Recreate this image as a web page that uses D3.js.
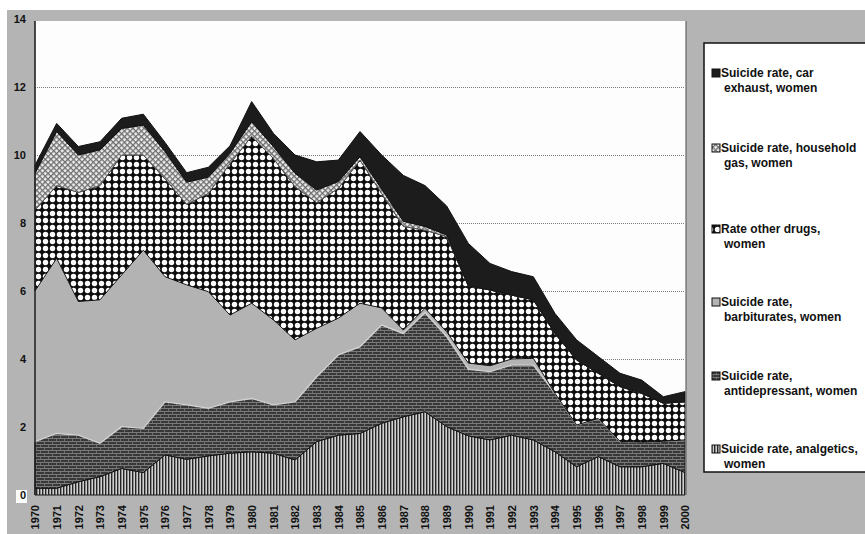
<!DOCTYPE html>
<html>
<head>
<meta charset="utf-8">
<script src="https://cdn.jsdelivr.net/npm/d3@7"></script>
<style>
  body { margin: 0; background: #fff; }
  svg { display: block; font-family: "Liberation Sans", Arial, sans-serif; }
  .axis path, .axis line { display: none; }
  .axis text { font-size: 11px; font-weight: bold; fill: #111; }
  .legend text { font-size: 12px; font-weight: bold; fill: #111; }
</style>
</head>
<body>
<svg id="chart"></svg>
<script>
// women, suicide rate by method (stacked, bottom to top)
const years = [1970, 1971, 1972, 1973, 1974, 1975, 1976, 1977, 1978, 1979,
  1980, 1981, 1982, 1983, 1984, 1985, 1986, 1987, 1988, 1989,
  1990, 1991, 1992, 1993, 1994, 1995, 1996, 1997, 1998, 1999, 2000];

const analgetics = [0.2, 0.2, 0.39, 0.54, 0.78, 0.66, 1.18, 1.05, 1.15, 1.23,
  1.27, 1.23, 1.03, 1.57, 1.76, 1.81, 2.11, 2.3, 2.45, 2.01,
  1.74, 1.62, 1.76, 1.62, 1.27, 0.83, 1.13, 0.83, 0.83, 0.93, 0.66];
const antidepressant = [1.37, 1.61, 1.37, 0.98, 1.23, 1.3, 1.56, 1.6, 1.4, 1.51,
  1.57, 1.42, 1.71, 1.91, 2.36, 2.55, 2.89, 2.45, 2.91, 2.65,
  1.96, 2.01, 2.06, 2.2, 1.72, 1.23, 1.12, 0.75, 0.72, 0.65, 0.96];
const barbiturates = [4.43, 5.15, 3.93, 4.22, 4.46, 5.24, 3.68, 3.53, 3.43, 2.55,
  2.8, 2.5, 1.82, 1.42, 1.08, 1.28, 0.5, 0.1, 0.13, 0.14,
  0.18, 0.17, 0.18, 0.2, 0, 0, 0, 0, 0, 0, 0];
const otherDrugs = [2.38, 2.14, 3.21, 3.36, 3.53, 2.8, 2.88, 2.37, 2.89, 4.46,
  4.91, 4.75, 4.51, 3.7, 3.82, 4.21, 3.37, 3.05, 2.3, 2.8,
  2.27, 2.23, 1.88, 1.72, 1.76, 1.91, 1.33, 1.61, 1.44, 1.12, 1.12];
const householdGas = [1.08, 1.59, 1.1, 1.05, 0.78, 0.88, 0.8, 0.65, 0.48, 0.3,
  0.43, 0.35, 0.39, 0.37, 0.2, 0.1, 0.13, 0.15, 0.11, 0.05,
  0, 0, 0, 0, 0, 0, 0, 0, 0, 0, 0];
const carExhaust = [0.24, 0.24, 0.25, 0.24, 0.3, 0.32, 0.27, 0.28, 0.29, 0.22,
  0.59, 0.39, 0.54, 0.83, 0.63, 0.74, 1.0, 1.35, 1.2, 0.85,
  1.25, 0.78, 0.69, 0.68, 0.59, 0.59, 0.49, 0.39, 0.39, 0.19, 0.3];

const yTicks = [0, 2, 4, 6, 8, 10, 12, 14];

const seriesKeys = ["analgetics", "antidepressant", "barbiturates", "otherDrugs", "householdGas", "carExhaust"];
const seriesValues = { analgetics, antidepressant, barbiturates, otherDrugs, householdGas, carExhaust };

// legend is listed top-down, i.e. reverse of the stack
const legendItems = [
  { key: "carExhaust", lines: ["Suicide rate, car", "exhaust, women"] },
  { key: "householdGas", lines: ["Suicide rate, household", "gas, women"] },
  { key: "otherDrugs", lines: ["Rate other drugs,", "women"] },
  { key: "barbiturates", lines: ["Suicide rate,", "barbiturates, women"] },
  { key: "antidepressant", lines: ["Suicide rate,", "antidepressant, women"] },
  { key: "analgetics", lines: ["Suicide rate, analgetics,", "women"] }
];

const width = 865, height = 534;
const plot = { left: 35, right: 685, top: 19, bottom: 495 };

const svg = d3.select("#chart").attr("width", width).attr("height", height);

// ---- fill patterns
const defs = svg.append("defs");

const pAnalg = defs.append("pattern").attr("id", "p-analgetics")
  .attr("patternUnits", "userSpaceOnUse").attr("width", 3).attr("height", 6);
pAnalg.append("rect").attr("width", 3).attr("height", 6).attr("fill", "#8c8c8c");
pAnalg.append("rect").attr("x", 0).attr("width", 1).attr("height", 6).attr("fill", "#262626");
pAnalg.append("rect").attr("x", 2).attr("width", 0.8).attr("height", 6).attr("fill", "#e2e2e2");

// brick texture
const pAnti = defs.append("pattern").attr("id", "p-antidepressant")
  .attr("patternUnits", "userSpaceOnUse").attr("width", 8).attr("height", 6);
pAnti.append("rect").attr("width", 8).attr("height", 6).attr("fill", "#383838");
pAnti.append("rect").attr("y", 0).attr("width", 8).attr("height", 0.8).attr("fill", "#8a8a8a");
pAnti.append("rect").attr("y", 3).attr("width", 8).attr("height", 0.8).attr("fill", "#8a8a8a");
pAnti.append("rect").attr("x", 0).attr("y", 0).attr("width", 0.8).attr("height", 3).attr("fill", "#7a7a7a");
pAnti.append("rect").attr("x", 4).attr("y", 3).attr("width", 0.8).attr("height", 3).attr("fill", "#7a7a7a");

const pOther = defs.append("pattern").attr("id", "p-otherDrugs")
  .attr("patternUnits", "userSpaceOnUse").attr("width", 7).attr("height", 7);
pOther.append("rect").attr("width", 7).attr("height", 7).attr("fill", "#0d0d0d");
pOther.append("circle").attr("cx", 3.5).attr("cy", 3.5).attr("r", 2.7).attr("fill", "#fafafa");

const pGas = defs.append("pattern").attr("id", "p-householdGas")
  .attr("patternUnits", "userSpaceOnUse").attr("width", 4).attr("height", 4)
  .attr("patternTransform", "rotate(45)");
pGas.append("rect").attr("width", 4).attr("height", 4).attr("fill", "#f0f0f0");
pGas.append("rect").attr("width", 4).attr("height", 1.3).attr("fill", "#6e6e6e");
pGas.append("rect").attr("width", 1.3).attr("height", 4).attr("fill", "#6e6e6e");

const fills = {
  analgetics: "url(#p-analgetics)",
  antidepressant: "url(#p-antidepressant)",
  barbiturates: "#b3b3b3",
  otherDrugs: "url(#p-otherDrugs)",
  householdGas: "url(#p-householdGas)",
  carExhaust: "#1c1c1c"
};
const strokes = {
  analgetics: "#1a1a1a",
  antidepressant: "#111",
  barbiturates: "#d2d2d2",
  otherDrugs: "#111",
  householdGas: "#555",
  carExhaust: "#111"
};

// ---- frame
svg.append("rect").attr("x", 7).attr("y", 10).attr("width", width - 7).attr("height", height - 10)
  .attr("fill", "#b4b4b4");
svg.append("rect").attr("x", plot.left).attr("y", 21)
  .attr("width", plot.right - plot.left + 1).attr("height", plot.bottom - 21)
  .attr("fill", "#fdfdfd");

// ---- scales
const x = d3.scaleLinear().domain([years[0], years[years.length - 1]]).range([plot.left, plot.right]);
const y = d3.scaleLinear().domain([0, 14]).range([plot.bottom, plot.top]);

// gridlines
svg.append("g")
  .attr("transform", `translate(${plot.left},0)`)
  .call(d3.axisLeft(y).tickValues(yTicks.filter(t => t > 0 && t < 14)).tickSize(-(plot.right - plot.left)).tickFormat(""))
  .call(g => g.select(".domain").remove())
  .selectAll("line")
  .attr("stroke", "#7a7a7a")
  .attr("stroke-width", 1)
  .attr("stroke-dasharray", "1,1");

// ---- stacked areas
const table = years.map((yr, i) => {
  const row = { year: yr };
  seriesKeys.forEach(k => { row[k] = seriesValues[k][i]; });
  return row;
});

const stacked = d3.stack().keys(seriesKeys)(table);

const area = d3.area()
  .x(d => x(d.data.year))
  .y0(d => y(d[0]))
  .y1(d => y(d[1]));

svg.append("g").attr("class", "layers")
  .selectAll("path")
  .data(stacked)
  .join("path")
  .attr("d", area)
  .attr("fill", d => fills[d.key])
  .attr("stroke", d => strokes[d.key])
  .attr("stroke-width", d => d.key === "barbiturates" ? 1.4 : 1)
  .attr("stroke-linejoin", "round");

// plot borders
svg.append("line").attr("x1", plot.left).attr("x2", plot.left).attr("y1", 21).attr("y2", plot.bottom)
  .attr("stroke", "#222").attr("stroke-width", 1.6);
svg.append("line").attr("x1", plot.right + 1).attr("x2", plot.right + 1).attr("y1", 21).attr("y2", plot.bottom)
  .attr("stroke", "#666").attr("stroke-width", 1.2);

// ---- y axis labels
svg.append("rect").attr("x", 16).attr("y", 490).attr("width", 11).attr("height", 13).attr("fill", "#fff");
svg.append("g").attr("class", "axis")
  .attr("transform", `translate(${plot.left - 9},0)`)
  .call(d3.axisLeft(y).tickValues(yTicks).tickSize(0).tickPadding(0).tickFormat(d3.format("d")));

// ---- x axis labels (rotated)
svg.append("g").attr("class", "axis")
  .attr("transform", `translate(0,${plot.bottom})`)
  .call(d3.axisBottom(x).tickValues(years).tickSize(0).tickFormat(d3.format("d")))
  .selectAll("text")
  .attr("transform", "rotate(-90)")
  .attr("x", -10)
  .attr("y", 0)
  .attr("dy", "0.35em")
  .style("text-anchor", "end");

// ---- legend
svg.append("rect").attr("x", 704).attr("y", 43).attr("width", 175).attr("height", 429)
  .attr("fill", "#fff").attr("stroke", "#111").attr("stroke-width", 1.5);

const legendY = [77, 152, 233, 306, 380, 453];
const legend = svg.append("g").attr("class", "legend")
  .selectAll("g")
  .data(legendItems)
  .join("g")
  .attr("transform", (d, i) => `translate(0,${legendY[i]})`);

legend.append("rect")
  .attr("x", 712).attr("y", -8).attr("width", 8).attr("height", 8)
  .attr("fill", d => fills[d.key])
  .attr("stroke", "#111").attr("stroke-width", 1);

legend.append("text")
  .attr("x", 721).attr("y", 0)
  .text(d => d.lines[0]);
legend.append("text")
  .attr("x", 724).attr("y", 15)
  .text(d => d.lines[1]);
</script>
</body>
</html>
